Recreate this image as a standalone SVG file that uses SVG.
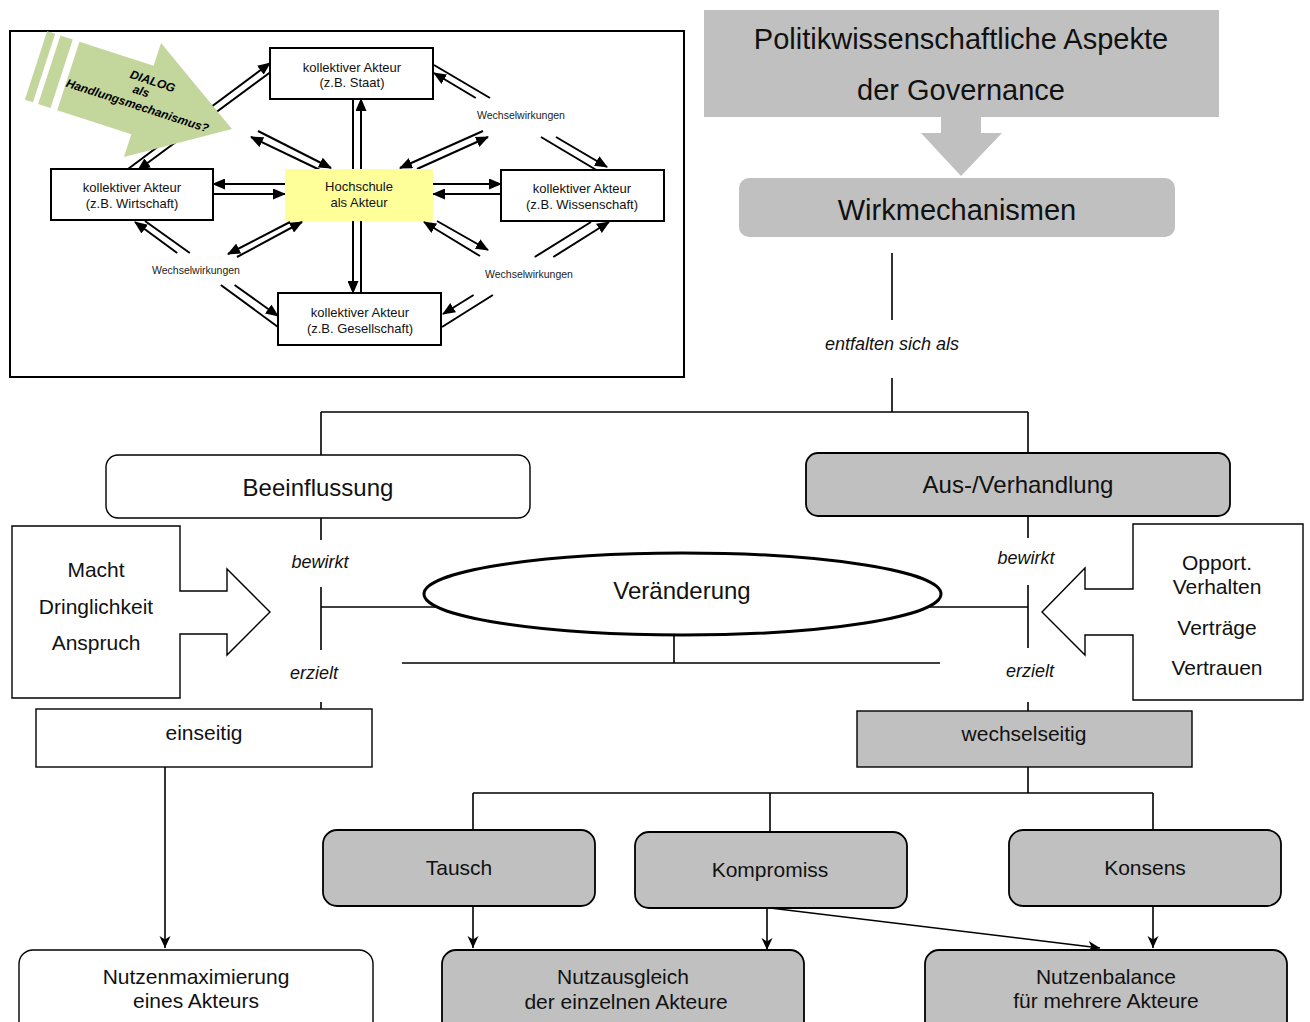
<svg xmlns="http://www.w3.org/2000/svg" width="1310" height="1022" viewBox="0 0 1310 1022">
  <defs>
    <!-- filled head for the double-line links in the actor panel -->
    <marker id="ah" markerUnits="userSpaceOnUse" viewBox="0 0 13 11" refX="12" refY="5.5" markerWidth="13" markerHeight="11" orient="auto">
      <path d="M0,0 L13,5.5 L0,11 z" fill="#000"/>
    </marker>
    <!-- notched head for the mechanism flow -->
    <marker id="st" markerUnits="userSpaceOnUse" viewBox="0 0 12 12" refX="12" refY="6" markerWidth="12" markerHeight="12" orient="auto">
      <path d="M0,0.5 L12,6 L0,11.5 L3.5,6 z" fill="#000"/>
    </marker>
    <style>
      .f{font-family:'Liberation Sans',Arial,Helvetica,sans-serif;fill:#111;text-anchor:middle}
      .s13{font-size:13px}
      .s10{font-size:10.5px;fill:#222}
      .s29{font-size:29px}
      .s24{font-size:24px}
      .s21{font-size:21px}
      .it{font-size:18px;font-style:italic}
      .gt{font-family:'Liberation Sans',Arial,sans-serif;font-size:12px;font-weight:bold;font-style:italic;fill:#000;text-anchor:middle}
      .dl{stroke:#000;stroke-width:2;fill:none;marker-end:url(#ah)}
      .dp{stroke:#000;stroke-width:2;fill:none}
      .ibox{fill:#fff;stroke:#000;stroke-width:2}
      .c{stroke:#000;stroke-width:1.6;fill:none}
      .ca{stroke:#000;stroke-width:1.6;fill:none;marker-end:url(#st)}
      .wb{fill:#fff;stroke:#000;stroke-width:1.4}
      .gb{fill:#c0c0c0;stroke:#000;stroke-width:1.8}
    </style>
  </defs>

  <rect x="0" y="0" width="1310" height="1022" fill="#fff"/>

  <!-- ===== actor panel ===== -->
  <g id="actor-panel">
    <rect x="10" y="31" width="674" height="346" fill="#fff" stroke="#000" stroke-width="2"/>

    <g id="panel-links">
      <!-- Wirtschaft - Staat -->
      <path class="dl" d="M128,169 L270,63"/>
      <path class="dl" d="M272,71 L138,170"/>
      <!-- Staat - Wissenschaft (broken at label) -->
      <path class="dl" d="M475.8,98 L434,73"/>
      <path class="dp" d="M541,137 L598,171"/>
      <path class="dp" d="M434,65 L490,98"/>
      <path class="dl" d="M556,137 L607,167"/>
      <!-- Wirtschaft - Gesellschaft (broken at label) -->
      <path class="dp" d="M145,221 L189.8,253"/>
      <path class="dl" d="M234.6,285 L278,316"/>
      <path class="dl" d="M177.2,253 L135,222"/>
      <path class="dp" d="M278,327 L220.8,285"/>
      <!-- Wissenschaft - Gesellschaft (broken at label) -->
      <path class="dp" d="M591,222 L534.7,257"/>
      <path class="dl" d="M473.6,295 L443,314"/>
      <path class="dp" d="M442,327 L492.9,295"/>
      <path class="dl" d="M553.3,257 L609,222"/>
      <!-- Hochschule spokes -->
      <path class="dl" d="M258,131 L331,168"/>
      <path class="dl" d="M320,170 L251,137"/>
      <path class="dl" d="M483,131 L400,168"/>
      <path class="dl" d="M417,169 L488,137"/>
      <path class="dl" d="M237,257 L302,222"/>
      <path class="dl" d="M290,222 L228,254"/>
      <path class="dl" d="M480,256 L424,222"/>
      <path class="dl" d="M437,221 L488,250"/>
      <!-- Hochschule vertical / horizontal -->
      <path class="dl" d="M353,99 L353,293"/>
      <path class="dl" d="M361,293 L361,99"/>
      <path class="dl" d="M285,184 L213,184"/>
      <path class="dl" d="M213,194 L285,194"/>
      <path class="dl" d="M433,184 L501,184"/>
      <path class="dl" d="M501,194 L433,194"/>
    </g>

    <text class="f s10" x="521" y="119">Wechselwirkungen</text>
    <text class="f s10" x="196" y="274">Wechselwirkungen</text>
    <text class="f s10" x="529" y="278">Wechselwirkungen</text>

    <!-- striped arrow -->
    <g id="dialog-arrow" transform="translate(142.5,100) rotate(18)">
      <g fill="#c3d69b">
        <rect x="-112" y="-36" width="8.5" height="72"/>
        <rect x="-98" y="-36" width="13" height="72"/>
        <polygon points="-78,-36 0,-36 0,-60 94,0 0,60 0,36 -78,36"/>
      </g>
      <text class="gt" x="4" y="-17">DIALOG</text>
      <text class="gt" x="-4" y="-4">als</text>
      <text class="gt" x="-3" y="11">Handlungsmechanismus?</text>
    </g>

    <g id="actor-staat">
      <rect class="ibox" x="270" y="48" width="163" height="51"/>
      <text class="f s13" x="352" y="72">kollektiver Akteur</text>
      <text class="f s13" x="352" y="87">(z.B. Staat)</text>
    </g>
    <g id="actor-wirtschaft">
      <rect class="ibox" x="51" y="169" width="162" height="51"/>
      <text class="f s13" x="132" y="192">kollektiver Akteur</text>
      <text class="f s13" x="132" y="208">(z.B. Wirtschaft)</text>
    </g>
    <g id="actor-hochschule">
      <rect x="285" y="169" width="148" height="52" fill="#ffff99"/>
      <text class="f s13" x="359" y="191">Hochschule</text>
      <text class="f s13" x="359" y="207">als Akteur</text>
    </g>
    <g id="actor-wissenschaft">
      <rect class="ibox" x="501" y="170" width="163" height="51"/>
      <text class="f s13" x="582" y="193">kollektiver Akteur</text>
      <text class="f s13" x="582" y="209">(z.B. Wissenschaft)</text>
    </g>
    <g id="actor-gesellschaft">
      <rect class="ibox" x="278" y="293" width="163" height="52"/>
      <text class="f s13" x="360" y="317">kollektiver Akteur</text>
      <text class="f s13" x="360" y="333">(z.B. Gesellschaft)</text>
    </g>
  </g>

  <!-- ===== mechanism flow connectors ===== -->
  <g id="connectors">
    <path class="c" d="M892,253 V320 M892,378 V412"/>
    <path class="c" d="M321,412 H1028 M321,412 V455 M1028,412 V453"/>
    <!-- left branch -->
    <path class="c" d="M321,518 V540 M321,587 V650 M321,607 H440 M321,702 V709"/>
    <!-- right branch -->
    <path class="c" d="M1028,516 V538 M1028,585 V648 M925,607 H1028 M1028,702 V711"/>
    <!-- under the change ellipse -->
    <path class="c" d="M674,635 V663 M402,663 H940"/>
    <!-- wechselseitig fan-out -->
    <path class="c" d="M1028,767 V793 M473,793 H1153 M473,793 V830 M770,793 V832 M1153,793 V830"/>
    <!-- results -->
    <path class="ca" d="M165,767 V948"/>
    <path class="ca" d="M473,906 V948"/>
    <path class="ca" d="M767,908 V950"/>
    <path class="ca" d="M770,908 L1100,948"/>
    <path class="ca" d="M1153,906 V948"/>
  </g>

  <text class="f it" x="892" y="350">entfalten sich als</text>
  <text class="f it" x="320" y="568">bewirkt</text>
  <text class="f it" x="314" y="679">erzielt</text>
  <text class="f it" x="1026" y="564">bewirkt</text>
  <text class="f it" x="1030" y="677">erzielt</text>

  <!-- ===== mechanism flow nodes ===== -->
  <g id="governance">
    <rect x="704" y="10" width="515" height="107" fill="#c0c0c0"/>
    <text class="f s29" x="961" y="49">Politikwissenschaftliche Aspekte</text>
    <text class="f s29" x="961" y="100">der Governance</text>
    <polygon points="941,117 981,117 981,133 1002,133 961,176 921,133 941,133" fill="#c0c0c0"/>
  </g>
  <g id="wirkmechanismen">
    <rect x="739" y="178" width="436" height="59" rx="10" fill="#c0c0c0"/>
    <text class="f s29" x="957" y="220">Wirkmechanismen</text>
  </g>
  <g id="beeinflussung">
    <rect class="wb" x="106" y="455" width="424" height="63" rx="12"/>
    <text class="f s24" x="318" y="496">Beeinflussung</text>
  </g>
  <g id="verhandlung">
    <rect class="gb" x="806" y="453" width="424" height="63" rx="12"/>
    <text class="f s24" x="1018" y="493">Aus-/Verhandlung</text>
  </g>
  <g id="macht">
    <path class="wb" d="M12,526 H180 V591 H227 V569 L270,612 L227,655 V634 H180 V698 H12 Z"/>
    <text class="f s21" x="96" y="577">Macht</text>
    <text class="f s21" x="96" y="614">Dringlichkeit</text>
    <text class="f s21" x="96" y="650">Anspruch</text>
  </g>
  <g id="opport">
    <path class="wb" d="M1303,524 H1133 V589 H1085 V568 L1042,612 L1085,655 V635 H1133 V700 H1303 Z"/>
    <text class="f s21" x="1217" y="570">Opport.</text>
    <text class="f s21" x="1217" y="594">Verhalten</text>
    <text class="f s21" x="1217" y="635">Verträge</text>
    <text class="f s21" x="1217" y="675">Vertrauen</text>
  </g>
  <g id="veraenderung">
    <ellipse cx="682.5" cy="594" rx="258.5" ry="41" fill="#fff" stroke="#000" stroke-width="3"/>
    <text class="f s24" x="682" y="599">Veränderung</text>
  </g>
  <g id="einseitig">
    <rect class="wb" x="36" y="709" width="336" height="58"/>
    <text class="f s21" x="204" y="740">einseitig</text>
  </g>
  <g id="wechselseitig">
    <rect x="857" y="711" width="335" height="56" fill="#c0c0c0" stroke="#000" stroke-width="1.4"/>
    <text class="f s21" x="1024" y="741">wechselseitig</text>
  </g>
  <g id="tausch">
    <rect class="gb" x="323" y="830" width="272" height="76" rx="14"/>
    <text class="f s21" x="459" y="875">Tausch</text>
  </g>
  <g id="kompromiss">
    <rect class="gb" x="635" y="832" width="272" height="76" rx="14"/>
    <text class="f s21" x="770" y="877">Kompromiss</text>
  </g>
  <g id="konsens">
    <rect class="gb" x="1009" y="830" width="272" height="76" rx="14"/>
    <text class="f s21" x="1145" y="875">Konsens</text>
  </g>
  <g id="nutzenmaximierung">
    <rect class="wb" x="19" y="950" width="354" height="90" rx="14"/>
    <text class="f s21" x="196" y="984">Nutzenmaximierung</text>
    <text class="f s21" x="196" y="1008">eines Akteurs</text>
  </g>
  <g id="nutzausgleich">
    <rect class="gb" x="442" y="950" width="362" height="90" rx="14"/>
    <text class="f s21" x="623" y="984">Nutzausgleich</text>
    <text class="f s21" x="626" y="1009">der einzelnen Akteure</text>
  </g>
  <g id="nutzenbalance">
    <rect class="gb" x="925" y="950" width="362" height="90" rx="14"/>
    <text class="f s21" x="1106" y="984">Nutzenbalance</text>
    <text class="f s21" x="1106" y="1008">für mehrere Akteure</text>
  </g>
</svg>
